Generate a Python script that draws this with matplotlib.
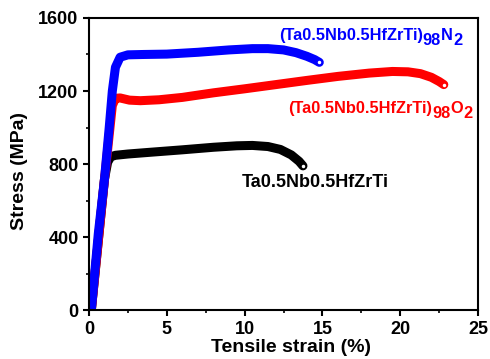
import matplotlib.pyplot as plt
import matplotlib.transforms as mtransforms

plt.rcParams['font.family'] = ['Liberation Sans', 'DejaVu Sans']

# curvas esfuerzo-deformacion
strain_n = [0.15, 0.6, 1.0, 1.3, 1.5, 1.7, 2.0, 2.5, 3.5, 5, 7, 9, 10.5, 11.5, 12.5, 13.3, 14, 14.5, 14.8]
stress_n = [0, 420, 720, 1000, 1200, 1330, 1385, 1398, 1400, 1402, 1412, 1425, 1432, 1432, 1425, 1410, 1390, 1372, 1357]

strain_o = [0.15, 1.0, 1.5, 1.7, 2.0, 2.6, 3.3, 4.5, 6, 8, 10, 12, 14, 16, 18, 19.5, 20.5, 21.3, 22, 22.5, 22.8]
stress_o = [0, 720, 1120, 1160, 1162, 1150, 1147, 1152, 1165, 1190, 1212, 1235, 1258, 1280, 1298, 1307, 1305, 1295, 1275, 1252, 1235]

strain_0 = [0.15, 1.0, 1.2, 1.4, 1.7, 2.5, 4, 6, 8, 9.5, 10.5, 11.5, 12.3, 13, 13.5, 13.75]
stress_0 = [0, 720, 810, 840, 848, 855, 865, 878, 892, 900, 902, 896, 880, 850, 815, 790]

fig = plt.figure(figsize=(4.9, 3.59), dpi=100)
ax = fig.add_axes([0.1816, 0.136, 0.794, 0.814])
ax.set_xlim(0, 25)
ax.set_ylim(0, 1600)

for x, y, c in [(strain_0, stress_0, 'black'), (strain_o, stress_o, 'red'), (strain_n, stress_n, 'blue')]:
    ax.plot(x, y, color=c, linewidth=6.5, solid_capstyle='round', solid_joinstyle='round')
    ax.plot(x[-1], y[-1], 'o', color='white', markersize=2.5, markeredgewidth=0)


# texto con subindices grandes, pieza por pieza
def etiqueta(x, y, partes, color):
    renderer = fig.canvas.get_renderer()
    dx = 0
    for s, size, dy in partes:
        tr = mtransforms.offset_copy(ax.transData, fig=fig, x=dx, y=dy, units='dots')
        t = ax.text(x, y, s, color=color, fontsize=size, fontweight='bold', va='baseline', transform=tr)
        dx += t.get_window_extent(renderer).width


etiqueta(12.2, 1480, [('(Ta0.5Nb0.5HfZrTi)', 11.8, 0), ('98', 11.8, -5), ('N', 11.8, 0), ('2', 11.8, -5)], 'blue')
etiqueta(12.8, 1077, [('(Ta0.5Nb0.5HfZrTi)', 11.8, 0), ('98', 11.8, -5), ('O', 11.8, 0), ('2', 11.8, -5)], 'red')
etiqueta(9.8, 675, [('Ta0.5Nb0.5HfZrTi', 13, 0)], 'black')

ax.set_xticks([0, 5, 10, 15, 20, 25])
ax.set_xticks([2.5, 7.5, 12.5, 17.5, 22.5], minor=True)
ax.set_yticks([0, 400, 800, 1200, 1600])
ax.set_yticks([200, 600, 1000, 1400], minor=True)
ax.tick_params(which='major', length=4, width=1.5, labelsize=13)
ax.tick_params(which='minor', length=2.5, width=1.2)
for lab in ax.get_xticklabels() + ax.get_yticklabels():
    lab.set_fontweight('bold')
for s in ax.spines.values():
    s.set_linewidth(1.5)

fig.text(291 / 490, 1 - 348 / 359, 'Tensile strain (%)', fontsize=14, fontweight='bold', ha='center', va='center')
fig.text(20 / 490, 1 - 171 / 359, 'Stress (MPa)', fontsize=14, fontweight='bold', ha='center', va='center', rotation=90)

fig.savefig('out.png', dpi=100)
